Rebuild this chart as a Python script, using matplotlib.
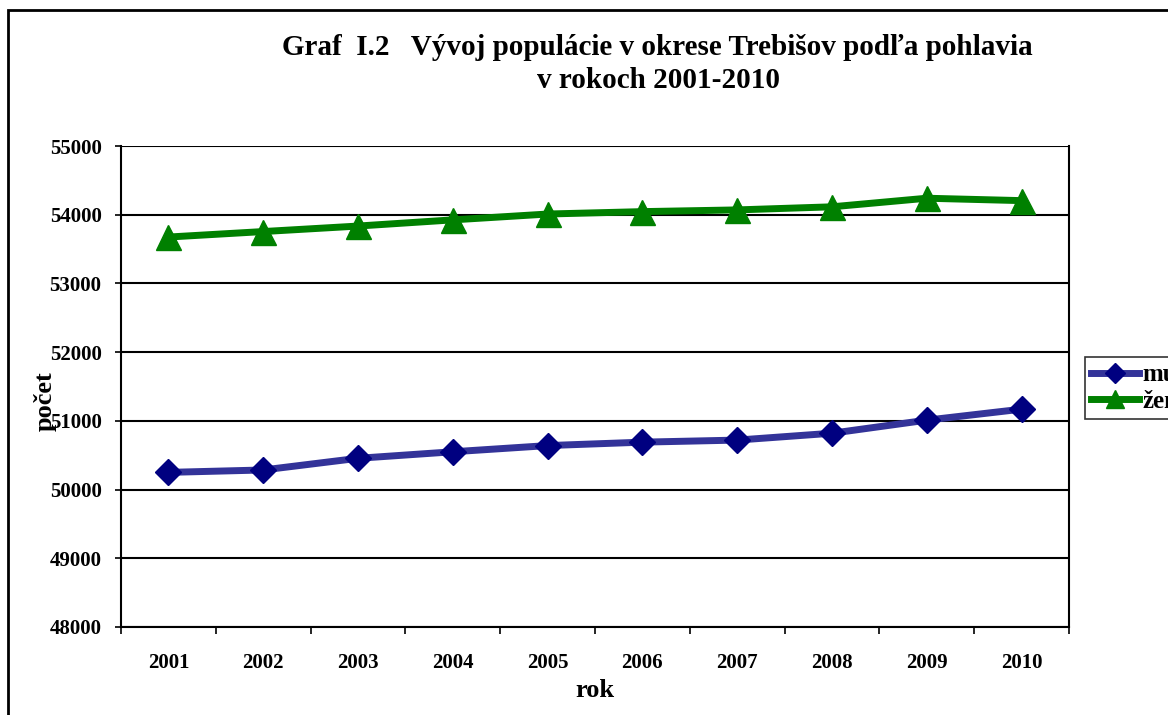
import numpy as np
import matplotlib.pyplot as plt
from matplotlib.patches import Rectangle

roky = ['2001', '2002', '2003', '2004', '2005', '2006', '2007', '2008', '2009', '2010']
muzi = [50250, 50285, 50455, 50550, 50640, 50690, 50720, 50820, 51010, 51170]
zeny = [53675, 53755, 53835, 53925, 54010, 54045, 54070, 54115, 54240, 54205]

plt.rcParams['font.family'] = ['Liberation Serif', 'DejaVu Serif']
plt.rcParams['font.weight'] = 'bold'

fig = plt.figure(figsize=(11.68, 7.15), dpi=100)
ax = fig.add_axes([0.1036, 0.1231, 0.8116, 0.6727])

x = np.arange(1, len(roky) + 1)
ax.plot(x, muzi, color='#333399', lw=5, marker='D', ms=13,
        mfc='#000080', mec='#000080', label='muži', zorder=3)
ax.plot(x, zeny, color='#008000', lw=5, marker='^', ms=18,
        mfc='#008000', mec='#008000', label='ženy', zorder=3)

ax.set_xlim(0.5, len(roky) + 0.5)
ax.set_ylim(48000, 55000)
ax.set_yticks(np.arange(48000, 55001, 1000))
ax.yaxis.grid(True, color='black', lw=1.5)
ax.set_axisbelow(True)

ax.set_xticks(np.arange(0.5, len(roky) + 1, 1))
ax.set_xticklabels([])
ax.set_xticks(x, minor=True)
ax.set_xticklabels(roky, minor=True)
ax.tick_params(axis='x', which='major', length=5, width=1.2, direction='out')
ax.tick_params(axis='x', which='minor', length=0, pad=19, labelsize=15)
ax.tick_params(axis='y', length=4, width=1.2, direction='out', labelsize=15, pad=10)

for s in ax.spines.values():
    s.set_linewidth(1.5)
    s.set_color('black')
ax.spines['top'].set_visible(False)

ax.set_xlabel('rok', fontsize=19, fontweight='bold', labelpad=4)
ax.set_ylabel('počet', fontsize=19, fontweight='bold')
ax.yaxis.set_label_coords(-0.068, 0.47)

fig.text(0.5625, 0.933, 'Graf  I.2   Vývoj populácie v okrese Trebišov podľa pohlavia',
         ha='center', va='center', fontsize=21, fontweight='bold')
fig.text(0.5642, 0.887, 'v rokoch 2001-2010', ha='center', va='center',
         fontsize=21, fontweight='bold')

leg = ax.legend(loc='upper left', bbox_to_anchor=(1.017, 0.561), frameon=True,
                fancybox=False, edgecolor='black', fontsize=18,
                handlelength=1.9, handletextpad=0.15, borderpad=0.25,
                labelspacing=0.15, borderaxespad=0, markerscale=0.75)
leg.get_frame().set_linewidth(1.2)

fig.patches.append(Rectangle((8 / 1168, -0.1), 1.2, 1.1 - 10 / 715,
                             transform=fig.transFigure, fill=False,
                             edgecolor='black', lw=2))

fig.savefig('out.png', dpi=100)
